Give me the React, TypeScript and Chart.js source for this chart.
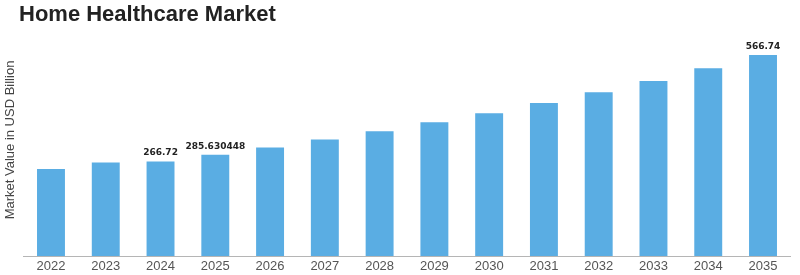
import React, { useEffect, useRef } from "react";
import { Chart, registerables } from "chart.js";

Chart.register(...registerables);

const categories = ["2022","2023","2024","2025","2026","2027","2028","2029","2030","2031","2032","2033","2034","2035"];
const values = [245.5, 263.8, 266.72, 285.630448, 306.0, 328.5, 352.0, 377.0, 403.0, 431.5, 462.0, 494.0, 529.5, 566.74];
const labelledCategories = ["2024", "2025", "2035"];
const chartTitle = "Home Healthcare Market";
const yTitle = "Market Value in USD Billion";

const decorPlugin = {
  id: "decor",
  afterDraw(chart: any) {
    const ctx = chart.ctx;
    ctx.save();
    // title
    ctx.fillStyle = "#222";
    ctx.font = "bold 22px 'Liberation Sans', Arial, sans-serif";
    ctx.textAlign = "left";
    ctx.textBaseline = "alphabetic";
    ctx.fillText(chartTitle, 19, 20.5);
    // y title
    ctx.save();
    ctx.translate(14, 140);
    ctx.rotate(-Math.PI / 2);
    ctx.font = "13px 'Liberation Sans', Arial, sans-serif";
    ctx.fillStyle = "#444";
    ctx.textAlign = "center";
    ctx.textBaseline = "alphabetic";
    ctx.fillText(yTitle, 0, 0);
    ctx.restore();
    // data labels
    const meta = chart.getDatasetMeta(0);
    ctx.font = "bold 9px 'DejaVu Sans', sans-serif";
    ctx.fillStyle = "#222";
    ctx.textAlign = "center";
    ctx.textBaseline = "alphabetic";
    meta.data.forEach((bar: any, i: number) => {
      if (labelledCategories.includes(categories[i])) {
        ctx.fillText(String(values[i]), bar.x, bar.y - 6);
      }
    });
    ctx.restore();
  },
};

export default function App() {
  const ref = useRef<HTMLCanvasElement>(null);
  useEffect(() => {
    const chart = new Chart(ref.current as HTMLCanvasElement, {
      type: "bar",
      data: {
        labels: categories,
        datasets: [
          {
            data: values,
            backgroundColor: "#5aade3",
            categoryPercentage: 1,
            barPercentage: 0.51,
          },
        ],
      },
      options: {
        animation: false,
        responsive: false,
        layout: { padding: { left: 23.6, right: 9.6, top: 43.3, bottom: 0 } },
        plugins: { legend: { display: false }, title: { display: false }, tooltip: { enabled: false } },
        scales: {
          x: {
            grid: { display: false, drawTicks: false },
            border: { display: true, color: "#b5b5b5", width: 1 },
            ticks: {
              color: "#555",
              padding: 3,
              font: { size: 13, family: "'Liberation Sans', Arial, sans-serif" },
              maxRotation: 0,
            },
            afterFit(scale: any) {
              scale.height = 19;
            },
          },
          y: {
            display: false,
            min: 0,
            max: 600,
          },
        },
      },
      plugins: [decorPlugin],
    });
    return () => chart.destroy();
  }, []);
  return (
    <div style={{ position: "fixed", left: 0, top: 0, width: 800, height: 275, background: "#fff" }}>
      <canvas ref={ref} width={800} height={275} style={{ display: "block" }} />
    </div>
  );
}
